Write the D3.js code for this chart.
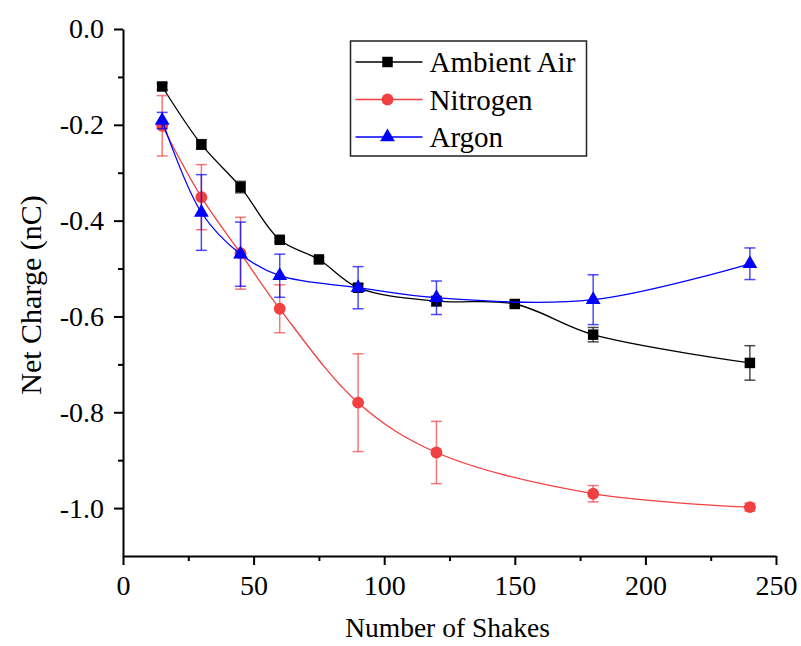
<!DOCTYPE html>
<html>
<head>
<meta charset="utf-8">
<script src="https://cdn.jsdelivr.net/npm/d3@7"></script>
<style>
  body { margin: 0; background: #fff; }
  svg text { font-family: "Liberation Serif", "Times New Roman", Times, "DejaVu Serif", serif; fill: #000; }
</style>
</head>
<body>
<div id="chart"></div>
<script>
const airShakes = [15, 30, 45, 60, 75, 90, 120, 150, 180, 240];
const airCharge = [-0.120, -0.241, -0.330, -0.440, -0.481, -0.540, -0.568, -0.574, -0.638, -0.697];
const airError = [0.007, 0.010, 0.012, 0.004, 0.004, 0.008, 0.010, 0.004, 0.015, 0.036];

const nitrogenShakes = [15, 30, 45, 60, 90, 120, 180, 240];
const nitrogenCharge = [-0.202, -0.351, -0.468, -0.584, -0.780, -0.884, -0.970, -0.998];
const nitrogenError = [0.063, 0.068, 0.075, 0.050, 0.102, 0.065, 0.017, 0.008];

const argonShakes = [15, 30, 45, 60, 90, 120, 180, 240];
const argonCharge = [-0.191, -0.383, -0.470, -0.515, -0.540, -0.561, -0.565, -0.490];
const argonError = [0.017, 0.079, 0.067, 0.045, 0.044, 0.035, 0.052, 0.033];

const seriesNames = ["Ambient Air", "Nitrogen", "Argon"];
const xTicks = [0, 50, 100, 150, 200, 250];
const yTicks = [0, -0.2, -0.4, -0.6, -0.8, -1.0];

const series = [
    { name: seriesNames[0], x: airShakes, y: airCharge, err: airError, color: "#000000", symbol: d3.symbolSquare, size: 110 },
    { name: seriesNames[1], x: nitrogenShakes, y: nitrogenCharge, err: nitrogenError, color: "#f23f3f", symbol: d3.symbolCircle, size: 110 },
    { name: seriesNames[2], x: argonShakes, y: argonCharge, err: argonError, color: "#0000ff", symbol: d3.symbolTriangle, size: 95 }
];

const serif = "'Liberation Serif', 'Times New Roman', Times, 'DejaVu Serif', serif";

const margin = { top: 29, right: 25, bottom: 90, left: 123 };
const width = 653;
const height = 527;

const svg = d3.select("#chart").append("svg")
    .attr("width", 801)
    .attr("height", 646)
  .append("g")
    .attr("transform", "translate(" + margin.left + "," + margin.top + ")");

const x = d3.scaleLinear().domain([0, 250]).range([0, width]);
const y = d3.scaleLinear().domain([-1.1, 0]).range([height, 0]);

// minor ticks
svg.append("g")
    .attr("transform", "translate(0," + height + ")")
    .call(d3.axisBottom(x).tickValues(d3.range(25, 250, 50)).tickSize(5).tickFormat(""))
    .call(g => g.select(".domain").remove())
    .call(g => g.selectAll("line").attr("stroke-width", 2));

svg.append("g")
    .call(d3.axisLeft(y).tickValues([-0.1, -0.3, -0.5, -0.7, -0.9]).tickSize(5).tickFormat(""))
    .call(g => g.select(".domain").remove())
    .call(g => g.selectAll("line").attr("stroke-width", 2));

// major axes
svg.append("g")
    .attr("class", "x-axis")
    .attr("transform", "translate(0," + height + ")")
    .call(d3.axisBottom(x).tickValues(xTicks).tickSize(9).tickPadding(10).tickSizeOuter(0))
    .attr("font-family", serif)
    .call(g => g.select(".domain").attr("stroke-width", 2))
    .call(g => g.selectAll("line").attr("stroke-width", 2))
    .call(g => g.selectAll("text").style("font-size", "28px"));

svg.append("g")
    .attr("class", "y-axis")
    .call(d3.axisLeft(y).tickValues(yTicks).tickSize(9).tickPadding(10).tickSizeOuter(0)
        .tickFormat(d => d.toFixed(1)))
    .attr("font-family", serif)
    .call(g => g.select(".domain").attr("stroke-width", 2))
    .call(g => g.selectAll("line").attr("stroke-width", 2))
    .call(g => g.selectAll("text").style("font-size", "28px"));

// axis titles
svg.append("text")
    .attr("x", width / 2 - 2)
    .attr("y", 608)
    .attr("text-anchor", "middle")
    .attr("font-family", serif)
    .style("font-size", "27.5px")
    .text("Number of Shakes");

svg.append("text")
    .attr("transform", "translate(" + (41 - margin.left) + "," + (295 - margin.top) + ") rotate(-90)")
    .attr("text-anchor", "middle")
    .attr("font-family", serif)
    .style("font-size", "30px")
    .text("Net Charge (nC)");

const line = d3.line()
    .x(d => x(d[0]))
    .y(d => y(d[1]))
    .curve(d3.curveCatmullRom.alpha(0.5));

series.forEach(s => {
    const pts = s.x.map((v, i) => [v, s.y[i], s.err[i]]);
    const g = svg.append("g");

    g.append("path")
        .datum(pts)
        .attr("d", line)
        .style("fill", "none")
        .style("stroke", s.color)
        .style("stroke-width", "1.3px");

    const eb = g.selectAll(".err")
        .data(pts)
      .enter().append("g")
        .attr("stroke", s.color)
        .attr("stroke-opacity", 0.7)
        .attr("stroke-width", 1.5);

    eb.append("line")
        .attr("x1", d => x(d[0])).attr("x2", d => x(d[0]))
        .attr("y1", d => y(d[1] - d[2])).attr("y2", d => y(d[1] + d[2]));
    eb.append("line")
        .attr("x1", d => x(d[0]) - 5.5).attr("x2", d => x(d[0]) + 5.5)
        .attr("y1", d => y(d[1] - d[2])).attr("y2", d => y(d[1] - d[2]));
    eb.append("line")
        .attr("x1", d => x(d[0]) - 5.5).attr("x2", d => x(d[0]) + 5.5)
        .attr("y1", d => y(d[1] + d[2])).attr("y2", d => y(d[1] + d[2]));

    g.selectAll(".pt")
        .data(pts)
      .enter().append("path")
        .attr("d", d3.symbol().type(s.symbol).size(s.size))
        .attr("transform", d => "translate(" + x(d[0]) + "," + y(d[1]) + ")")
        .attr("fill", s.color);
});

// legend
const legend = svg.append("g")
    .attr("transform", "translate(" + (350.5 - margin.left) + "," + (41 - margin.top) + ")");

legend.append("rect")
    .attr("width", 236)
    .attr("height", 115)
    .attr("fill", "#fff")
    .attr("stroke", "#222")
    .attr("stroke-width", 1.5);

series.forEach((s, i) => {
    const ly = 21 + i * 37.5;
    legend.append("line")
        .attr("x1", 5).attr("x2", 72)
        .attr("y1", ly).attr("y2", ly)
        .attr("stroke", s.color)
        .attr("stroke-width", 1.3);
    legend.append("path")
        .attr("d", d3.symbol().type(s.symbol).size(s.size))
        .attr("transform", "translate(37," + ly + ")")
        .attr("fill", s.color);
    legend.append("text")
        .attr("x", 79)
        .attr("y", ly + 10)
        .attr("font-family", serif)
        .style("font-size", "29px")
        .text(s.name);
});
</script>
</body>
</html>
